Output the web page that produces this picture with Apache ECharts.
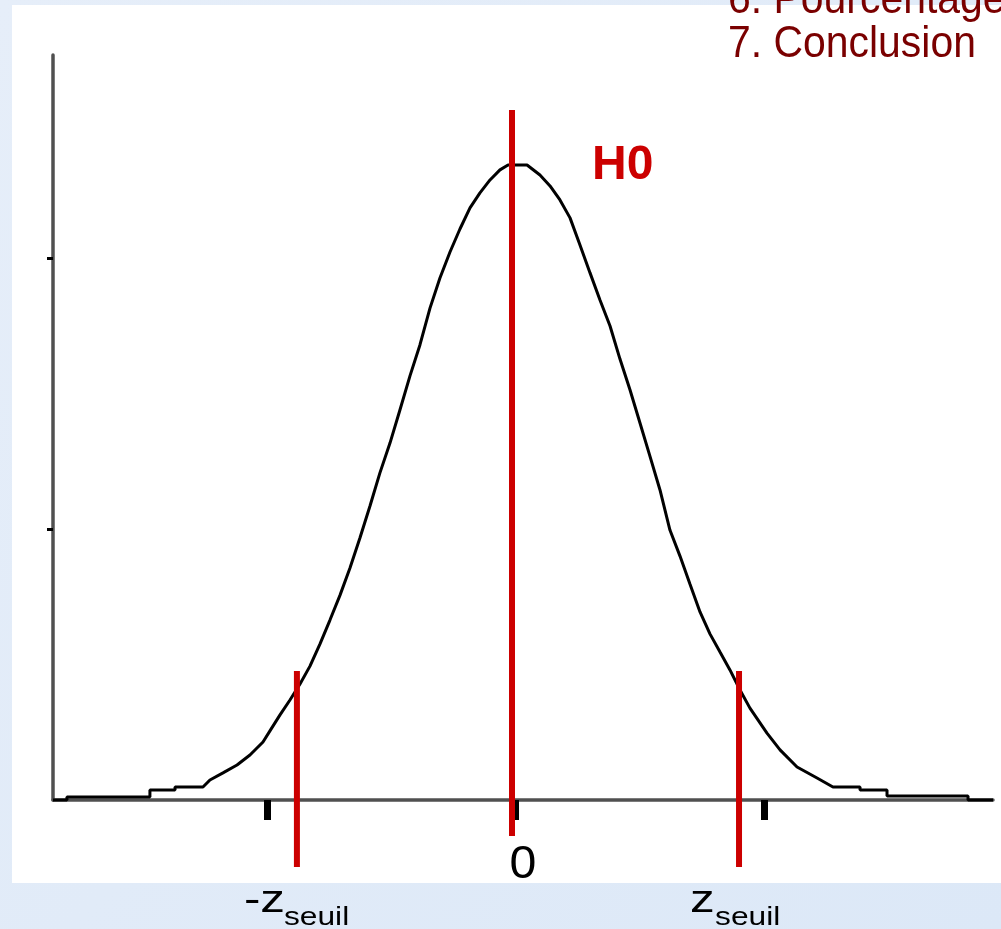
<!DOCTYPE html>
<html lang="fr">
<head>
<meta charset="UTF-8">
<title>Test z - H0</title>
<style>
html,body{margin:0;padding:0;}
#demo{width:1001px;height:929px;}
</style>
</head>
<body>
<div id="demo"></div>
<script src="https://cdn.jsdelivr.net/npm/echarts@6/dist/echarts.min.js"></script>
<script>
// courbe : abscisse z, ordonnee densite
var zVals = [-3.722, -3.610, -3.610, -2.942, -2.942, -2.740, -2.740, -2.515, -2.459, -2.354,
    -2.241, -2.137, -2.032, -1.976, -1.895, -1.815, -1.734, -1.654, -1.573, -1.493,
    -1.412, -1.332, -1.252, -1.171, -1.091, -1.010, -0.930, -0.849, -0.769, -0.688,
    -0.608, -0.527, -0.447, -0.366, -0.286, -0.205, -0.125, -0.060, 0.093, 0.197,
    0.278, 0.358, 0.439, 0.519, 0.600, 0.680, 0.761, 0.841, 0.922, 1.002,
    1.082, 1.163, 1.243, 1.324, 1.404, 1.485, 1.565, 1.646, 1.726, 1.807,
    1.887, 2.024, 2.129, 2.266, 2.427, 2.555, 2.773, 2.773, 2.990, 2.990,
    3.642, 3.642, 3.843];
var densVals = [0, 0, 0.0011, 0.0011, 0.0037, 0.0037, 0.0048, 0.0048, 0.0074, 0.0100,
    0.0129, 0.0166, 0.0214, 0.0255, 0.0314, 0.0369, 0.0428, 0.0494, 0.0576, 0.0664,
    0.0756, 0.0856, 0.0967, 0.1085, 0.1207, 0.1317, 0.1439, 0.1565, 0.1679, 0.1815,
    0.1926, 0.2022, 0.2107, 0.2185, 0.2240, 0.2288, 0.2325, 0.2343, 0.2343, 0.2306,
    0.2266, 0.2214, 0.2148, 0.2048, 0.1945, 0.1845, 0.1749, 0.1627, 0.1513, 0.1391,
    0.1269, 0.1144, 0.0996, 0.0900, 0.0797, 0.0694, 0.0613, 0.0546, 0.0480, 0.0406,
    0.0339, 0.0247, 0.0185, 0.0122, 0.0081, 0.0048, 0.0048, 0.0037, 0.0037, 0.0015,
    0.0015, 0, 0];

// lignes rouges : -z seuil, H0 (0), z seuil
var redNames = ['-zseuil', 'H0', 'zseuil'];
var redZ = [-1.759, -0.028, 1.799];
var redTop = [0.0476, 0.2546, 0.0476];
var redBottom = [-0.0247, -0.0133, -0.0247];

var xTicks = [-2, 0, 2];
var yTicks = [0.1, 0.2];
var xMin = -3.722, xMax = 3.843, yMax = 0.2749;

var myChart = echarts.init(document.getElementById('demo'));

var curve = [];
for (var i = 0; i < zVals.length; i++) {
    curve.push([zVals[i], densVals[i]]);
}

var series = [{
    name: 'densite',
    type: 'line',
    data: curve,
    showSymbol: false,
    clip: false,
    silent: true,
    lineStyle: {color: '#000', width: 3},
    z: 3
}];
for (var j = 0; j < redZ.length; j++) {
    series.push({
        name: redNames[j],
        type: 'line',
        data: [[redZ[j], redBottom[j]], [redZ[j], redTop[j]]],
        showSymbol: false,
        clip: false,
        silent: true,
        lineStyle: {color: '#cc0000', width: 6, cap: 'butt'},
        z: 4
    });
}

var option = {
    animation: false,
    backgroundColor: {
        type: 'linear', x: 0, y: 0, x2: 1, y2: 1,
        colorStops: [{offset: 0, color: '#e6eef9'}, {offset: 1, color: '#dce8f7'}]
    },
    grid: {left: 53, right: 8, top: 55, bottom: 129, containLabel: false, outerBoundsMode: 'none'},
    xAxis: {
        type: 'value',
        min: xMin,
        max: xMax,
        axisLine: {show: true, onZero: false, lineStyle: {color: '#505050', width: 3.5}},
        axisTick: {show: true, customValues: xTicks, length: 20, lineStyle: {color: '#000', width: 7}},
        axisLabel: {show: false},
        splitLine: {show: false}
    },
    yAxis: {
        type: 'value',
        min: 0,
        max: yMax,
        axisLine: {show: true, onZero: false, lineStyle: {color: '#505050', width: 3.5}},
        axisTick: {show: true, customValues: yTicks, length: 6, lineStyle: {color: '#000', width: 3}},
        axisLabel: {show: false},
        splitLine: {show: false}
    },
    series: series
};
myChart.setOption(option);

// textes : positions prises sur les lignes rouges
var pL = myChart.convertToPixel({gridIndex: 0}, [redZ[0], 0]);
var pC = myChart.convertToPixel({gridIndex: 0}, [redZ[1], redTop[1]]);
var pR = myChart.convertToPixel({gridIndex: 0}, [redZ[2], 0]);

var sans = 'Liberation Sans, Arial, sans-serif';
myChart.setOption({
    graphic: [
        {type: 'rect', z: -100, shape: {x: 12, y: 5, width: 989, height: 878}, style: {fill: '#fff'}},
        {type: 'text', x: 728, y: 1, scaleX: 0.93, style: {text: '6. Pourcentage', font: '44px ' + sans, fill: '#7a0000', textVerticalAlign: 'middle'}},
        {type: 'text', x: 728, y: 45, scaleX: 0.93, style: {text: '7. Conclusion', font: '44px ' + sans, fill: '#7a0000', textVerticalAlign: 'middle'}},
        {type: 'text', x: pC[0] + 80, y: pC[1] + 56, style: {text: 'H0', font: 'bold 48px ' + sans, fill: '#cc0000', textVerticalAlign: 'middle'}},
        {type: 'text', x: pC[0] + 11, y: 865, scaleX: 1.05, style: {text: '0', font: '46px ' + sans, fill: '#000', textAlign: 'center', textVerticalAlign: 'middle'}},
        {type: 'text', x: pL[0] - 53, y: 902, scaleX: 1.3, style: {text: '-z', font: '38px ' + sans, fill: '#000', textVerticalAlign: 'middle'}},
        {type: 'text', x: pL[0] - 13, y: 918, scaleX: 1.27, style: {text: 'seuil', font: '25px ' + sans, fill: '#000', textVerticalAlign: 'middle'}},
        {type: 'text', x: pR[0] - 49, y: 902, scaleX: 1.3, style: {text: 'z', font: '38px ' + sans, fill: '#000', textVerticalAlign: 'middle'}},
        {type: 'text', x: pR[0] - 24, y: 918, scaleX: 1.27, style: {text: 'seuil', font: '25px ' + sans, fill: '#000', textVerticalAlign: 'middle'}}
    ]
});
</script>
</body>
</html>
